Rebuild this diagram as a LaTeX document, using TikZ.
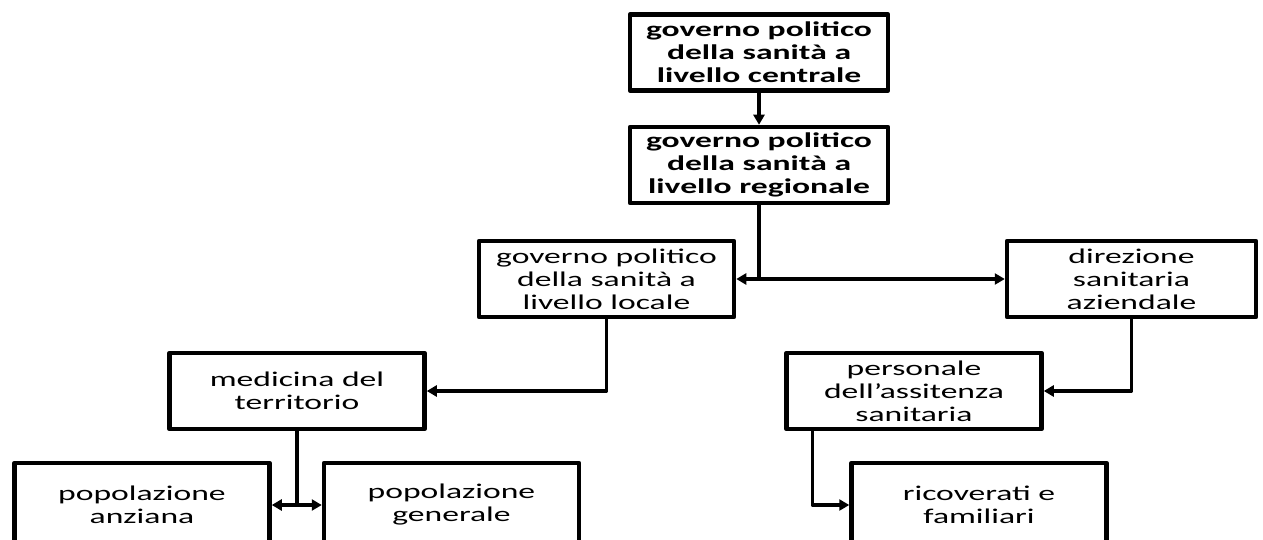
\documentclass[tikz,border=0pt]{standalone}
\usepackage{fontspec}
\setmainfont{Carlito}[FakeStretch=1.6]
\usetikzlibrary{arrows.meta}
\begin{document}
\begin{tikzpicture}[x=1pt,y=-1pt,
  box/.style={draw=drawColor,line width=4.5pt,line join=round,minimum width=#1,minimum height=76pt,inner sep=0pt,align=center,font=\fontsize{21}{23}\selectfont},
  box/.default=255pt,
  link/.style={draw=drawColor,line width=3.5pt,line join=round},
  tip/.style={-{Triangle[length=10pt,width=11pt]}},
  tips/.style={{Triangle[length=10pt,width=11pt]}-{Triangle[length=10pt,width=11pt]}}]
\definecolor{fillColor}{RGB}{255,255,255}
\definecolor{drawColor}{RGB}{0,0,0}
\path[use as bounding box,fill=fillColor] (0,0) rectangle (1263,540);

\node[box=258pt,font=\fontsize{21}{23}\selectfont\bfseries] (central) at (759,52.5) {governo politico\\della sanità a\\livello centrale};
\node[box=258pt,font=\fontsize{21}{23}\selectfont\bfseries] (regional) at (759,165) {governo politico\\della sanità a\\livello regionale};

\node[box] (local) at (606.5,279) {governo politico\\della sanità a\\livello locale};
\node[box=249pt] (direzione) at (1131.5,279) {direzione\\sanitaria\\aziendale};

\node[box] (medicina) at (297,391) {medicina del\\territorio};
\node[box] (personale) at (914,391) {personale\\dell’assitenza\\sanitaria};

\node[box,minimum height=84pt] (anziana) at (142,505) {popolazione\\anziana};
\node[box,minimum height=84pt] (generale) at (451.5,505) {popolazione\\generale};
\node[box,minimum height=84pt] (ricoverati) at (979,505) {ricoverati e\\familiari};

\draw[link,tip] (central) -- (regional);
\draw[link,tip] (regional.south) |- (local.east);
\draw[link,tip] (regional.south) |- (direzione.west);
\draw[link,tip] (local.south) |- (medicina.east);
\draw[link,tip] (direzione.south) |- (personale.east);
\draw[link] (medicina.south) -- (medicina.south |- anziana.east);
\draw[link,tips] (anziana.east) -- (generale.west);
\draw[link,tip] ([xshift=28pt]personale.south west) |- (ricoverati.west);
\end{tikzpicture}
\end{document}
